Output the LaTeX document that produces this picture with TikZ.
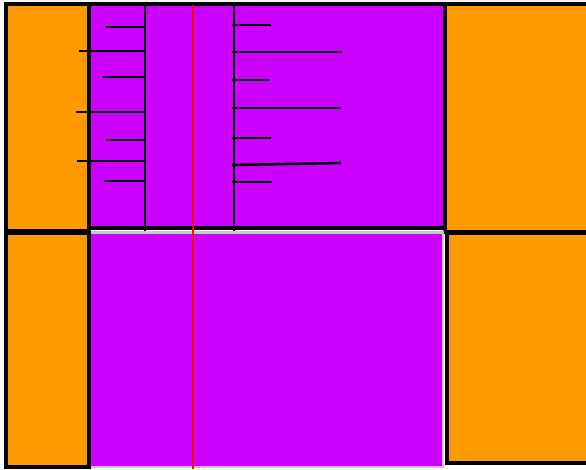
\documentclass[tikz,border=0pt]{standalone}
\usetikzlibrary{positioning}
\definecolor{bandorange}{RGB}{255,153,0}
\definecolor{bandpurple}{RGB}{204,0,255}
\definecolor{edgegray}{RGB}{200,200,200}

\begin{document}
\begin{tikzpicture}[x=0.03cm, y=-0.03cm,
    block/.style={draw=black, line width=2.8pt, fill=bandorange},
    core/.style={fill=bandpurple},
    rail/.style={line width=2.2pt},
    tick/.style={line width=2.2pt}
]
    \useasboundingbox (0,0) rectangle (586,469);
    % top band
    \fill[bandpurple] (89,4) rectangle (445,228);
    \draw[line width=2.8pt] (89,4) -- (445,4) (89,228) -- (445,228);
    \draw[block] (6,4) rectangle (89,231);
    \draw[line width=3.6pt] (89,4) -- (89,231);
    \draw[block] (445,4) rectangle (592,232);
    \draw[edgegray, line width=0.8pt] (90,231) -- (444,231);
    % bottom band
    \draw[draw=edgegray, line width=1.4pt, fill=bandpurple] (90,233) rectangle (443,467);
    \draw[block] (6,233) rectangle (89,467);
    \draw[block] (447,233) rectangle (592,463);
    % rails
    \draw[rail] (145,5) -- (145,231);
    \draw[rail] (234,5) -- (234,231);
    % ticks on the left rail
    \foreach \y/\x in {27/106, 51/79, 77/103, 112/76, 140/106, 161/77, 181/104}
        \draw[tick] (\x,\y) -- (145,\y);
    % ticks on the right rail
    \foreach \y/\x in {25/271, 52/342, 80/269, 108/341, 138/271, 182/272}
        \draw[tick] (232,\y) -- (\x,\y);
    \draw[tick] (232,165) -- (341,163);
    % red line
    \draw[red, line width=2pt] (193,5) -- (193,469);
\end{tikzpicture}
\end{document}
